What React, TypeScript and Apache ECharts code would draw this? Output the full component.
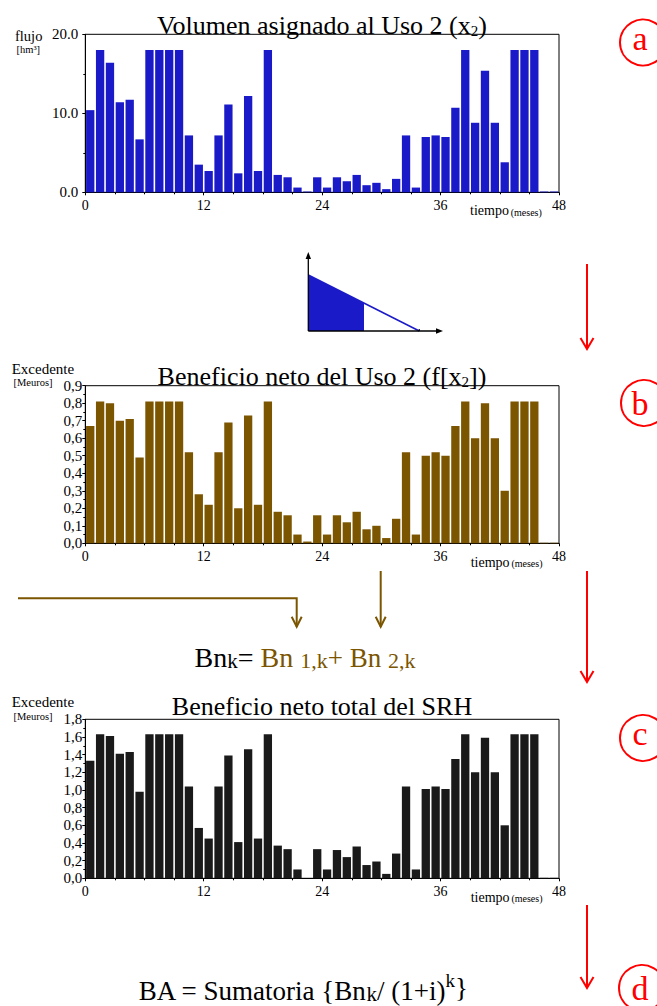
import React, { useEffect, useRef } from 'react';
import * as echarts from 'echarts';

const FONT = 'Liberation Serif';
const BLUE = '#1a1ac8';
const BROWN = '#7b5500';
const DARK = '#1a1a1a';
const RED = '#ff0000';

// month index (category of each bar)
const meses = [
  0, 1, 2, 3, 4, 5, 6, 7, 8, 9, 10, 11, 12, 13, 14, 15, 16, 17, 18, 19, 20, 21, 22, 23,
  24, 25, 26, 27, 28, 29, 30, 31, 32, 33, 34, 35, 36, 37, 38, 39, 40, 41, 42, 43, 44, 45, 46, 47,
];

// (a) Volumen asignado al Uso 2 (x2) [hm3]
const volumenX2 = [
  10.4, 18.0, 16.4, 11.4, 11.7, 6.7, 18.0, 18.0, 18.0, 18.0, 7.2, 3.5,
  2.7, 7.2, 11.1, 2.4, 12.2, 2.7, 18.0, 2.2, 1.9, 0.6, 0.1, 1.9,
  0.6, 1.9, 1.4, 2.2, 0.9, 1.2, 0.4, 1.7, 7.2, 0.6, 7.0, 7.2,
  7.0, 10.7, 18.0, 8.8, 15.4, 8.8, 3.8, 18.0, 18.0, 18.0, 0.1, 0.1,
];

// (b) Beneficio neto del Uso 2 [Meuros]
const beneficioUso2 = [
  0.67, 0.81, 0.80, 0.70, 0.71, 0.49, 0.81, 0.81, 0.81, 0.81, 0.52, 0.28,
  0.22, 0.52, 0.69, 0.20, 0.73, 0.22, 0.81, 0.18, 0.16, 0.05, 0.01, 0.16,
  0.05, 0.16, 0.12, 0.18, 0.08, 0.10, 0.03, 0.14, 0.52, 0.05, 0.50, 0.52,
  0.50, 0.67, 0.81, 0.60, 0.80, 0.60, 0.30, 0.81, 0.81, 0.81, 0.003, 0.003,
];

// (c) Beneficio neto total del SRH [Meuros]
const beneficioTotal = [
  1.33, 1.63, 1.61, 1.41, 1.43, 0.98, 1.63, 1.63, 1.63, 1.63, 1.04, 0.57,
  0.45, 1.04, 1.39, 0.41, 1.46, 0.45, 1.63, 0.37, 0.33, 0.10, 0.0, 0.33,
  0.10, 0.32, 0.24, 0.36, 0.15, 0.19, 0.05, 0.28, 1.04, 0.10, 1.01, 1.04,
  1.01, 1.35, 1.63, 1.20, 1.59, 1.20, 0.60, 1.63, 1.63, 1.63, 0.005, 0.005,
];

// axis ticks
const xTicks = [0, 12, 24, 36, 48];
const yTicksA = [0, 10, 20];
const yTicksB = [0, 0.1, 0.2, 0.3, 0.4, 0.5, 0.6, 0.7, 0.8, 0.9];
const yTicksC = [0, 0.2, 0.4, 0.6, 0.8, 1.0, 1.2, 1.4, 1.6, 1.8];

type Seg = { t: string; f: number; c?: string; d?: number };

function richText(segs: Seg[], F: number, x: number, baseline: number, align: string, tail?: string, tailColor?: string) {
  const L = F + 6;
  const rich: any = {};
  let text = '';
  segs.forEach((s, i) => {
    const d = s.d || 0;
    let h: number;
    let va: string;
    if (d >= 0) {
      h = L - 0.675 * F - 2 * d + 0.675 * s.f;
      va = 'bottom';
    } else {
      h = L + 0.675 * F + 2 * d - 0.675 * s.f;
      va = 'top';
    }
    rich['s' + i] = { fontSize: s.f, fontFamily: FONT, fill: s.c || '#000', lineHeight: h, verticalAlign: va };
    text += '{s' + i + '|' + s.t + '}';
  });
  if (tail) text += tail;
  return {
    type: 'text',
    x,
    y: baseline - (L / 2 + 0.3375 * F),
    z: 20,
    style: {
      text,
      rich,
      fontSize: F,
      fontFamily: FONT,
      fill: tailColor || '#000',
      lineHeight: L,
      align,
      verticalAlign: 'top',
    },
  };
}

function plainText(t: string, f: number, x: number, baseline: number, align: string, color?: string) {
  return {
    type: 'text',
    x,
    y: baseline - 0.3375 * f,
    z: 20,
    style: { text: t, fontSize: f, fontFamily: FONT, fill: color || '#000', align, verticalAlign: 'middle' },
  };
}

function downArrow(x: number, y1: number, tip: number, color: string, hw: number, hh: number) {
  return [
    { type: 'line', z: 20, shape: { x1: x, y1, x2: x, y2: tip }, style: { stroke: color, lineWidth: 2 } },
    {
      type: 'polyline', z: 20,
      shape: { points: [[x - hw, tip - hh], [x, tip], [x + hw, tip - hh]] },
      style: { stroke: color, lineWidth: 2, fill: 'none' },
    },
  ];
}

function labelCircle(letter: string, cx: number, cy: number, baseline: number) {
  return [
    { type: 'circle', z: 20, shape: { cx, cy, r: 23 }, style: { stroke: RED, lineWidth: 2, fill: 'none' } },
    plainText(letter, 34, 640, baseline, 'center', RED),
  ];
}

const PLOT_LEFT = 85.3;
const PLOT_WIDTH = 473.7;

const panels = [
  { top: 34.3, height: 158, ticks: yTicksA, values: volumenX2, color: BLUE, comma: false, margin: 7 },
  { top: 385.7, height: 157.6, ticks: yTicksB, values: beneficioUso2, color: BROWN, comma: true, margin: 3 },
  { top: 719.3, height: 159, ticks: yTicksC, values: beneficioTotal, color: DARK, comma: true, margin: 3 },
];

function buildOption() {
  const grid = panels.map((p) => ({
    left: PLOT_LEFT,
    top: p.top,
    width: PLOT_WIDTH,
    height: p.height,
    show: true,
    borderColor: '#000',
    borderWidth: 1,
    backgroundColor: 'transparent',
  }));

  const xAxis = panels.map((p, i) => ({
    type: 'value',
    gridIndex: i,
    min: xTicks[0],
    max: xTicks[xTicks.length - 1],
    interval: xTicks[1] - xTicks[0],
    axisLine: { show: true, lineStyle: { color: '#000', width: 1 } },
    axisTick: { show: true, length: 3, lineStyle: { color: '#000' } },
    minorTick: { show: true, splitNumber: 4, length: 2, lineStyle: { color: '#000' } },
    splitLine: { show: false },
    minorSplitLine: { show: false },
    axisLabel: { color: '#000', fontFamily: FONT, fontSize: 14, margin: 6 },
  }));

  const yAxis = panels.map((p, i) => ({
    type: 'value',
    gridIndex: i,
    min: p.ticks[0],
    max: p.ticks[p.ticks.length - 1],
    interval: p.ticks[1] - p.ticks[0],
    axisLine: { show: true, lineStyle: { color: '#000', width: 1 } },
    axisTick: { show: true, length: 3, lineStyle: { color: '#000' } },
    minorTick: { show: true, splitNumber: 2, length: 2, lineStyle: { color: '#000' } },
    splitLine: { show: false },
    minorSplitLine: { show: false },
    axisLabel: {
      color: '#000',
      fontFamily: FONT,
      fontSize: 15,
      margin: p.margin,
      formatter: (v: number) => (p.comma ? v.toFixed(1).replace('.', ',') : v.toFixed(1)),
    },
  }));

  const series = panels.map((p, i) => ({
    type: 'bar',
    xAxisIndex: i,
    yAxisIndex: i,
    barWidth: 8.3,
    itemStyle: { color: p.color },
    data: p.values.map((v, k) => [meses[k] + 0.5, v]),
  }));

  const graphic: any[] = [
    // titles
    richText([{ t: 'Volumen asignado al Uso 2 (x', f: 26 }, { t: '2', f: 15, d: 2 }, { t: ')', f: 26 }], 26, 322, 31, 'center'),
    richText([{ t: 'Beneficio neto del Uso 2 (f[x', f: 26 }, { t: '2', f: 15, d: 3 }, { t: '])', f: 26 }], 26, 322, 382, 'center'),
    plainText('Beneficio neto total del SRH', 26, 322, 715, 'center'),

    // y axis names
    plainText('flujo', 14.5, 15, 40.5, 'left'),
    plainText('[hm³]', 10.5, 16.5, 53, 'left'),
    plainText('Excedente', 15, 11.7, 374, 'left'),
    plainText('[Meuros]', 10.5, 13.5, 386.5, 'left'),
    plainText('Excedente', 15, 11.7, 706.8, 'left'),
    plainText('[Meuros]', 10.5, 13.5, 720, 'left'),

    // x axis names
    plainText('tiempo', 14, 470, 215.5, 'left'),
    plainText('(meses)', 10, 510.7, 215.5, 'left'),
    plainText('tiempo', 14, 470.7, 567, 'left'),
    plainText('(meses)', 10, 511.4, 567, 'left'),
    plainText('tiempo', 14, 470.7, 902, 'left'),
    plainText('(meses)', 10, 511.4, 902, 'left'),

    // formulas
    richText(
      [
        { t: 'Bn', f: 28 },
        { t: 'k', f: 21, d: 5 },
        { t: '= ', f: 28 },
        { t: 'Bn ', f: 28, c: BROWN },
        { t: '1,k', f: 22, d: 5, c: BROWN },
        { t: '+ Bn ', f: 27, c: BROWN },
        { t: '2,k', f: 22, d: 5, c: BROWN },
      ],
      28, 305, 664, 'center'
    ),
    richText(
      [
        { t: 'BA = Sumatoria {Bn', f: 27 },
        { t: 'k', f: 21, d: 5 },
        { t: '/ (1+i)', f: 27 },
        { t: 'k', f: 19, d: -16 },
      ],
      27, 303, 997, 'center', '}'
    ),

    // triangle sketch
    {
      type: 'polygon', z: 20,
      shape: { points: [[308.3, 275], [364, 303.2], [364, 331], [308.3, 331]] },
      style: { fill: BLUE },
    },
    { type: 'line', z: 21, shape: { x1: 308.3, y1: 275, x2: 419.3, y2: 331 }, style: { stroke: BLUE, lineWidth: 1.5 } },
    { type: 'line', z: 21, shape: { x1: 308.3, y1: 331, x2: 308.3, y2: 256 }, style: { stroke: '#000', lineWidth: 1.3 } },
    { type: 'line', z: 21, shape: { x1: 308.3, y1: 331, x2: 439, y2: 331 }, style: { stroke: '#000', lineWidth: 1.3 } },
    { type: 'polygon', z: 21, shape: { points: [[308.3, 252], [305.6, 259], [311, 259]] }, style: { fill: '#000' } },
    { type: 'polygon', z: 21, shape: { points: [[443, 331], [436, 328.3], [436, 333.7]] }, style: { fill: '#000' } },
    { type: 'line', z: 21, shape: { x1: 419.3, y1: 329, x2: 419.3, y2: 331 }, style: { stroke: '#000', lineWidth: 1 } },

    // brown arrows
    {
      type: 'polyline', z: 20,
      shape: { points: [[18, 598.3], [296.7, 598.3], [296.7, 626.7]] },
      style: { stroke: BROWN, lineWidth: 2, fill: 'none' },
    },
    {
      type: 'polyline', z: 20,
      shape: { points: [[291.7, 616.7], [296.7, 626.7], [301.7, 616.7]] },
      style: { stroke: BROWN, lineWidth: 2, fill: 'none' },
    },
    ...downArrow(380.7, 571, 626.7, BROWN, 5, 10),

    // red arrows
    ...downArrow(587, 264, 349, RED, 6.5, 11),
    ...downArrow(587, 571, 682, RED, 6.5, 11),
    ...downArrow(587, 905, 988, RED, 6.5, 11),

    // circled labels
    ...labelCircle('a', 643, 42.5, 50),
    ...labelCircle('b', 644, 403, 415),
    ...labelCircle('c', 643, 738, 745),
    ...labelCircle('d', 642, 988, 1000),
  ];

  return {
    animation: false,
    backgroundColor: '#fff',
    grid,
    xAxis,
    yAxis,
    series,
    graphic,
  };
}

export default function App() {
  const ref = useRef<HTMLDivElement>(null);
  useEffect(() => {
    const chart = echarts.init(ref.current as HTMLDivElement, null, { renderer: 'svg' });
    chart.setOption(buildOption() as any);
    return () => chart.dispose();
  }, []);
  return (
    <div
      ref={ref}
      style={{ position: 'absolute', left: 0, top: 0, width: 657, height: 1006, background: '#fff' }}
    />
  );
}
